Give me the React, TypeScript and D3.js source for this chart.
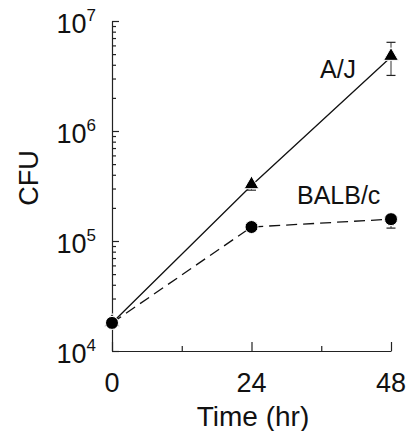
import { useEffect, useRef } from "react";
import * as d3 from "d3";

// hours after infection
const hours = [0, 24, 48];
// CFU per strain
const ajCfu = [1.8e4, 3.2e5, 4.7e6];
const ajLow = [null, 2.9e5, 3.2e6];
const ajHigh = [null, 3.3e5, 6.4e6];
const balbCfu = [1.8e4, 1.34e5, 1.58e5];
const balbLow = [null, null, 1.31e5];
const balbHigh = [null, null, 1.6e5];
const yMajor = [1e4, 1e5, 1e6, 1e7];
const xMajor = [0, 24, 48];
const xMinor = [12, 36];

function App() {
  const ref = useRef<SVGSVGElement>(null);

  useEffect(() => {
    const svg = d3.select(ref.current);
    svg.selectAll("*").remove();
    const font = "'Liberation Sans', Arial, Helvetica, sans-serif";

    const x = d3.scaleLinear().domain([0, 48]).range([112, 391]);
    const y = d3.scaleLog().domain([1e4, 1e7]).range([351, 21]);

    const yMinor: number[] = [];
    for (let e = 4; e < 7; e++)
      for (let m = 2; m <= 9; m++) yMinor.push(m * Math.pow(10, e));

    // axes, ticks pointing inward
    const gy = svg.append("g").attr("transform", `translate(${x(0)},0)`);
    gy.call(d3.axisLeft(y).tickValues(yMajor).tickSize(-7).tickSizeOuter(0).tickFormat(() => ""));
    svg
      .append("g")
      .attr("transform", `translate(${x(0)},0)`)
      .call(d3.axisLeft(y).tickValues(yMinor).tickSize(-4).tickSizeOuter(0).tickFormat(() => ""))
      .select(".domain")
      .remove();

    const gx = svg.append("g").attr("transform", `translate(0,${y(1e4)})`);
    gx.call(d3.axisBottom(x).tickValues(xMajor).tickSize(-9).tickSizeOuter(0).tickFormat(() => ""));
    svg
      .append("g")
      .attr("transform", `translate(0,${y(1e4)})`)
      .call(d3.axisBottom(x).tickValues(xMinor).tickSize(-5).tickSizeOuter(0).tickFormat(() => ""))
      .select(".domain")
      .remove();

    svg.selectAll(".domain, .tick line").attr("stroke", "#222").attr("stroke-width", 1.2);

    // y tick labels 10^n
    yMajor.forEach((v) => {
      const t = svg
        .append("text")
        .attr("x", 96)
        .attr("y", y(v) + 12)
        .attr("text-anchor", "end")
        .attr("font-family", font)
        .attr("font-size", 27)
        .attr("fill", "#111");
      t.append("tspan").text("10");
      t.append("tspan")
        .attr("dy", -12)
        .attr("font-size", 17)
        .text(String(Math.round(Math.log10(v))));
    });

    // x tick labels
    xMajor.forEach((v) => {
      svg
        .append("text")
        .attr("x", x(v))
        .attr("y", 392)
        .attr("text-anchor", "middle")
        .attr("font-family", font)
        .attr("font-size", 27)
        .attr("fill", "#111")
        .text(String(v));
    });

    svg
      .append("text")
      .attr("x", 253)
      .attr("y", 426)
      .attr("text-anchor", "middle")
      .attr("font-family", font)
      .attr("font-size", 28)
      .attr("fill", "#111")
      .text("Time (hr)");

    svg
      .append("text")
      .attr("transform", `translate(38,178) rotate(-90)`)
      .attr("text-anchor", "middle")
      .attr("font-family", font)
      .attr("font-size", 27)
      .attr("fill", "#111")
      .text("CFU");

    const line = d3
      .line<number>()
      .x((_, i) => x(hours[i]))
      .y((d) => y(d));

    svg
      .append("path")
      .attr("d", line(ajCfu))
      .attr("fill", "none")
      .attr("stroke", "#111")
      .attr("stroke-width", 1.3);
    svg
      .append("path")
      .attr("d", line(balbCfu))
      .attr("fill", "none")
      .attr("stroke", "#111")
      .attr("stroke-width", 1.3)
      .attr("stroke-dasharray", "11,6");

    // error bars
    const errBars = (lo: (number | null)[], hi: (number | null)[]) => {
      hours.forEach((h, i) => {
        const l = lo[i];
        const u = hi[i];
        if (l == null || u == null) return;
        const cx = x(h);
        svg
          .append("line")
          .attr("x1", cx)
          .attr("x2", cx)
          .attr("y1", y(l))
          .attr("y2", y(u))
          .attr("stroke", "#333")
          .attr("stroke-width", 1);
        [l, u].forEach((v) =>
          svg
            .append("line")
            .attr("x1", cx - 4.5)
            .attr("x2", cx + 4.5)
            .attr("y1", y(v))
            .attr("y2", y(v))
            .attr("stroke", "#222")
            .attr("stroke-width", 1.2)
        );
      });
    };
    errBars(ajLow, ajHigh);
    errBars(balbLow, balbHigh);

    // markers
    const tri = d3.symbol().type(d3.symbolTriangle).size(95);
    svg
      .selectAll(".tri")
      .data(ajCfu)
      .join("path")
      .attr("d", tri)
      .attr("transform", (d, i) => `translate(${x(hours[i])},${y(d) - 1})`)
      .attr("fill", "#000")
      .attr("stroke", "#fff")
      .attr("stroke-width", 1);
    svg
      .selectAll(".dot")
      .data(balbCfu)
      .join("circle")
      .attr("cx", (_, i) => x(hours[i]))
      .attr("cy", (d) => y(d))
      .attr("r", 6.5)
      .attr("fill", "#000")
      .attr("stroke", "#fff")
      .attr("stroke-width", 1);

    svg
      .append("text")
      .attr("x", 320)
      .attr("y", 78)
      .attr("font-family", font)
      .attr("font-size", 25)
      .attr("fill", "#111")
      .text("A/J");
    svg
      .append("text")
      .attr("x", 297)
      .attr("y", 204)
      .attr("font-family", font)
      .attr("font-size", 25)
      .attr("fill", "#111")
      .text("BALB/c");
  }, []);

  return (
    <svg
      ref={ref}
      width={408}
      height={431}
      style={{ position: "absolute", left: 0, top: 0, background: "#fff" }}
    />
  );
}

export default App;
